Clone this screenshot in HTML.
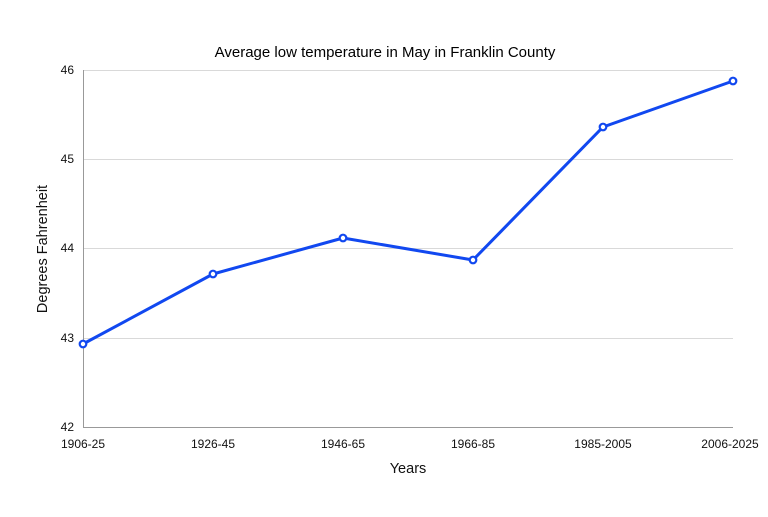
<!DOCTYPE html>
<html><head><style>body{margin:0;background:#fff}</style></head><body>
<svg width="768" height="512" xmlns="http://www.w3.org/2000/svg" font-family="Liberation Sans, Arial, sans-serif">
<rect width="768" height="512" fill="#fff"/>
<text x="385" y="57" text-anchor="middle" font-size="15" fill="#000">Average low temperature in May in Franklin County</text>
<g stroke="#d9d9d9" stroke-width="1">
<line x1="83" y1="70.5" x2="733" y2="70.5"/>
<line x1="83" y1="159.5" x2="733" y2="159.5"/>
<line x1="83" y1="248.5" x2="733" y2="248.5"/>
<line x1="83" y1="338.5" x2="733" y2="338.5"/>
</g>
<line x1="83.5" y1="70" x2="83.5" y2="427" stroke="#999"/>
<line x1="83" y1="427.5" x2="733" y2="427.5" stroke="#999"/>
<g font-size="12" fill="#111" text-anchor="end">
<text x="74" y="74">46</text><text x="74" y="163">45</text><text x="74" y="252">44</text><text x="74" y="342">43</text><text x="74" y="431">42</text>
</g>
<g font-size="12" fill="#111" text-anchor="middle">
<text x="83" y="448">1906-25</text><text x="213" y="448">1926-45</text><text x="343" y="448">1946-65</text><text x="473" y="448">1966-85</text><text x="603" y="448">1985-2005</text><text x="730" y="448">2006-2025</text>
</g>
<text x="408" y="473" text-anchor="middle" font-size="14.5" fill="#111">Years</text>
<text transform="translate(47,249) rotate(-90)" text-anchor="middle" font-size="14.5" fill="#111">Degrees Fahrenheit</text>
<polyline points="83,344 213,274 343,238 473,260 603,127 733,81" fill="none" stroke="#1148f0" stroke-width="3" stroke-linejoin="round"/>
<g fill="#fff" stroke="#1148f0" stroke-width="2.2">
<circle cx="83" cy="344" r="3.3"/><circle cx="213" cy="274" r="3.3"/><circle cx="343" cy="238" r="3.3"/><circle cx="473" cy="260" r="3.3"/><circle cx="603" cy="127" r="3.3"/><circle cx="733" cy="81" r="3.3"/>
</g>
</svg>
</body></html>
